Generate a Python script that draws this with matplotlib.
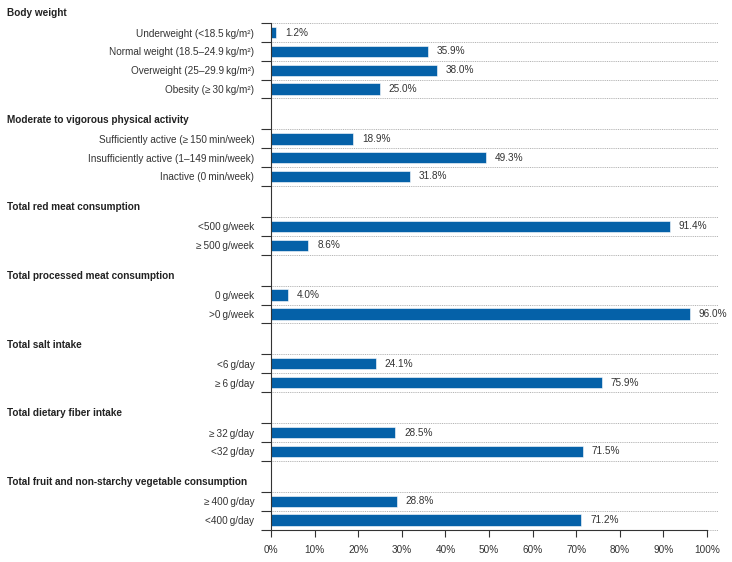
import matplotlib.pyplot as plt
import matplotlib.transforms as mtransforms

# group headers, row labels and percentages
groups = [
    'Body weight',
    'Moderate to vigorous physical activity',
    'Total red meat consumption',
    'Total processed meat consumption',
    'Total salt intake',
    'Total dietary fiber intake',
    'Total fruit and non-starchy vegetable consumption',
]
labels = [
    ['Underweight (<18.5\u2009kg/m\u00b2)', 'Normal weight (18.5\u201324.9\u2009kg/m\u00b2)',
     'Overweight (25\u201329.9\u2009kg/m\u00b2)', 'Obesity (\u2265\u200930\u2009kg/m\u00b2)'],
    ['Sufficiently active (\u2265\u2009150\u2009min/week)', 'Insufficiently active (1\u2013149\u2009min/week)',
     'Inactive (0\u2009min/week)'],
    ['<500\u2009g/week', '\u2265\u2009500\u2009g/week'],
    ['0\u2009g/week', '>0\u2009g/week'],
    ['<6\u2009g/day', '\u2265\u20096\u2009g/day'],
    ['\u2265\u200932\u2009g/day', '<32\u2009g/day'],
    ['\u2265\u2009400\u2009g/day', '<400\u2009g/day'],
]
values = [
    [1.2, 35.9, 38.0, 25.0],
    [18.9, 49.3, 31.8],
    [91.4, 8.6],
    [4.0, 96.0],
    [24.1, 75.9],
    [28.5, 71.5],
    [28.8, 71.2],
]
xticks = [0, 10, 20, 30, 40, 50, 60, 70, 80, 90, 100]

plt.rcParams['font.family'] = ['Liberation Sans', 'DejaVu Sans']
fs = 7.2

bar_color = '#0561a8'
gap = 1.66

fig = plt.figure(figsize=(7.32, 5.62), dpi=100)
ax = fig.add_axes([271 / 732, 1 - 529.5 / 562, 436 / 732, 506.3 / 562])
hdr = mtransforms.blended_transform_factory(fig.transFigure, ax.transData)

centers = []
names = []
bounds = []
y0 = 0
for g, labs, vals in zip(groups, labels, values):
    ax.text(7 / 732, y0 - 0.53, g, transform=hdr, fontweight='bold',
            va='center', ha='left', fontsize=fs, color='#222222', clip_on=False)
    for i, (lab, v) in enumerate(zip(labs, vals)):
        yc = y0 + i + 0.5
        centers.append(yc)
        names.append(lab)
        ax.barh(yc, v, height=0.6, color=bar_color, edgecolor='white', linewidth=0.4)
        ax.text(v + 2.0, yc, f'{v:.1f}%', va='center', ha='left', fontsize=fs, color='#333333')
    for i in range(len(labs) + 1):
        bounds.append(y0 + i)
        ax.plot([0, 102.6], [y0 + i, y0 + i], color='#a8a8a8', lw=0.6,
                ls=(0, (1.2, 1.0)), clip_on=False, zorder=0)
    y0 = y0 + len(labs) + gap
total = y0 - gap

ax.set_ylim(total, 0)
ax.set_xlim(0, 100)
ax.set_yticks(centers)
ax.set_yticklabels(names, fontsize=fs, color='#333333')
ax.tick_params(axis='y', which='major', length=0, pad=12)
ax.set_yticks(bounds, minor=True)
ax.tick_params(axis='y', which='minor', length=7, width=0.8, color='#333333')
ax.set_xticks(xticks)
ax.set_xticklabels([f'{t}%' for t in xticks], fontsize=fs, color='#333333')
ax.tick_params(axis='x', length=5, width=0.8, pad=6, color='#333333')
ax.spines['top'].set_visible(False)
ax.spines['right'].set_visible(False)
ax.spines['left'].set_linewidth(0.8)
ax.spines['bottom'].set_linewidth(0.8)
ax.spines['left'].set_color('#333333')
ax.spines['bottom'].set_color('#333333')

fig.savefig('out.png', dpi=100)
